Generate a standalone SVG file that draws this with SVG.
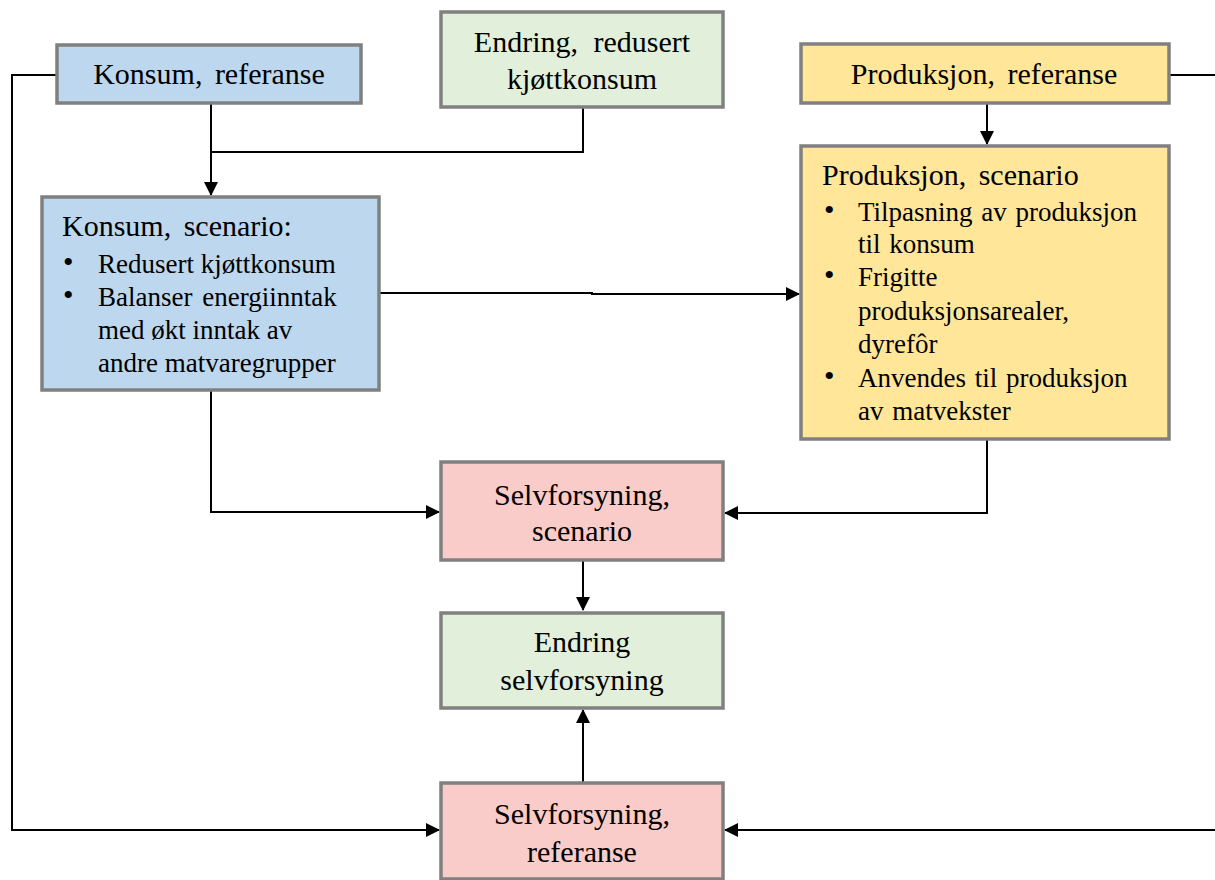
<svg xmlns="http://www.w3.org/2000/svg" width="1215" height="880" viewBox="0 0 1215 880">
<defs>
<style>
.box{stroke:#808080;stroke-width:3.5}
.blue{fill:#BDD7EE}.green{fill:#E2EFDA}.yellow{fill:#FFE699}.pink{fill:#F9CBC9}
text{font-family:"Liberation Serif","Times New Roman",serif;fill:#000}
.t{font-size:30px;text-anchor:middle}
.h{font-size:30px}
.b{font-size:27px}
.d{font-size:30px}
.c{fill:none;stroke:#000;stroke-width:2}
</style>
<marker id="ah" markerWidth="14" markerHeight="14" refX="13" refY="7" orient="auto" markerUnits="userSpaceOnUse">
<path d="M0,0 L14,7 L0,14 Z" fill="#000"/>
</marker>
</defs>
<rect width="1215" height="880" fill="#fff"/>
<g id="connectors">
<path class="c" d="M57,75 H12 V830 H439" marker-end="url(#ah)"/>
<path class="c" d="M1169,75 H1217"/>
<path class="c" d="M1217,830 H725" marker-end="url(#ah)"/>
<path class="c" d="M211,103 V195" marker-end="url(#ah)"/>
<path class="c" d="M583,107 V152 H211"/>
<path class="c" d="M987,103 V144" marker-end="url(#ah)"/>
<path class="c" d="M379,293 H592 V294 H799" marker-end="url(#ah)"/>
<path class="c" d="M211,390 V512 H439" marker-end="url(#ah)"/>
<path class="c" d="M987,439 V513 H725" marker-end="url(#ah)"/>
<path class="c" d="M583,560 V610" marker-end="url(#ah)"/>
<path class="c" d="M583,783 V710" marker-end="url(#ah)"/>
</g>
<g id="konsum-ref">
<rect class="box blue" x="57" y="45" width="304" height="58"/>
<text class="t" x="209" y="84" word-spacing="5">Konsum, referanse</text>
</g>
<g id="endring-redusert">
<rect class="box green" x="441" y="12" width="282" height="95"/>
<text class="t" x="582" y="52" word-spacing="8">Endring, redusert</text>
<text class="t" x="582" y="89">kjøttkonsum</text>
</g>
<g id="produksjon-ref">
<rect class="box yellow" x="801" y="44" width="368" height="59"/>
<text class="t" x="984" y="84" word-spacing="5">Produksjon, referanse</text>
</g>
<g id="konsum-scenario">
<rect class="box blue" x="42" y="197" width="337" height="193"/>
<text class="h" x="62" y="236" word-spacing="5">Konsum, scenario:</text>
<text class="d" x="63" y="272">•</text>
<text class="d" x="63" y="305">•</text>
<g class="b">
<text x="98" y="273">Redusert kjøttkonsum</text>
<text x="98" y="306" word-spacing="3">Balanser energiinntak</text>
<text x="98" y="339">med økt inntak av</text>
<text x="98" y="372">andre matvaregrupper</text>
</g>
</g>
<g id="produksjon-scenario">
<rect class="box yellow" x="801" y="146" width="368" height="293"/>
<text class="h" x="822" y="185" word-spacing="5">Produksjon, scenario</text>
<text class="d" x="824" y="220">•</text>
<text class="d" x="824" y="285">•</text>
<text class="d" x="824" y="386">•</text>
<g class="b">
<text x="858" y="221" word-spacing="2">Tilpasning av produksjon</text>
<text x="858" y="253" word-spacing="2">til konsum</text>
<text x="858" y="286">Frigitte</text>
<text x="858" y="320">produksjonsarealer,</text>
<text x="858" y="353">dyrefôr</text>
<text x="858" y="387" word-spacing="2">Anvendes til produksjon</text>
<text x="858" y="420" word-spacing="2">av matvekster</text>
</g>
</g>
<g id="selvforsyning-scenario">
<rect class="box pink" x="441" y="462" width="282" height="98"/>
<text class="t" x="582" y="505">Selvforsyning,</text>
<text class="t" x="582" y="541">scenario</text>
</g>
<g id="endring-selvforsyning">
<rect class="box green" x="441" y="613" width="282" height="95"/>
<text class="t" x="582" y="652">Endring</text>
<text class="t" x="582" y="690">selvforsyning</text>
</g>
<g id="selvforsyning-ref">
<rect class="box pink" x="441" y="783" width="282" height="96"/>
<text class="t" x="582" y="824">Selvforsyning,</text>
<text class="t" x="582" y="862">referanse</text>
</g>
</svg>
